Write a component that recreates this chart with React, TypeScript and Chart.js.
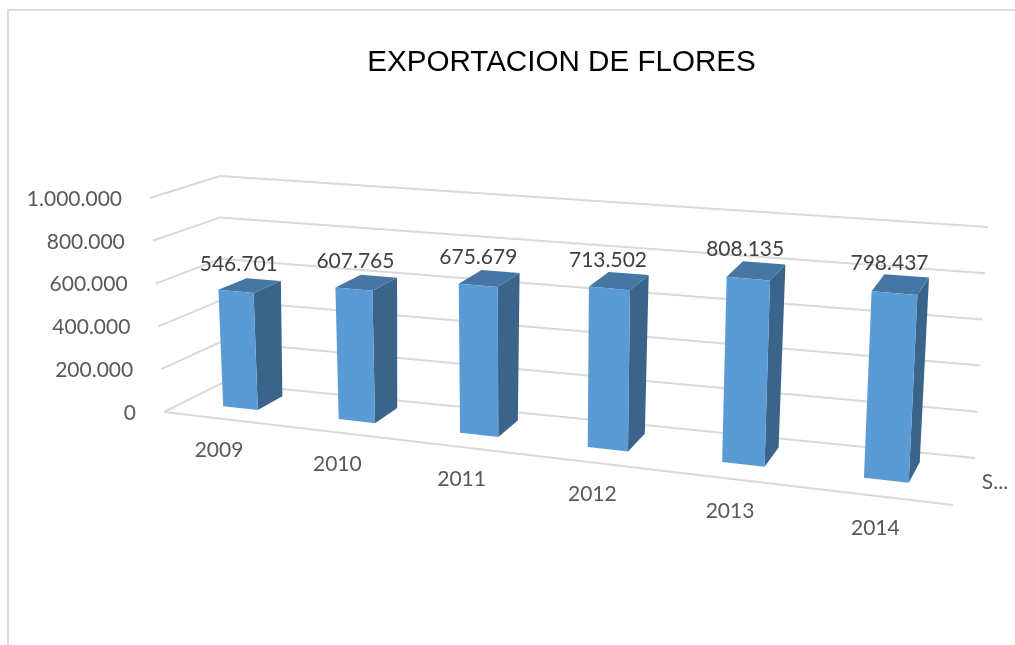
import React, { useEffect, useRef } from "react";
import { Chart, registerables } from "chart.js";

Chart.register(...registerables);

const categories = ["2009", "2010", "2011", "2012", "2013", "2014"];
const exportValues = [546701, 607765, 675679, 713502, 808135, 798437];
const axisTicks = [0, 200000, 400000, 600000, 800000, 1000000];
const seriesLabel = "S...";
const chartTitle = "EXPORTACION DE FLORES";

type Pt = { x: number; y: number };

// Perspective frame of the "3D" plot (corners of the floor, lift vectors for the walls)
const FLOOR = {
  frontLeft: { x: 164, y: 412 },
  frontRight: { x: 953, y: 505 },
  backLeft: { x: 222, y: 383 },
  backRight: { x: 975, y: 458 },
};
const LIFT = {
  frontLeft: { x: -14, y: -214 },
  frontRight: { x: 12, y: -240 },
  backLeft: { x: -2, y: -207 },
  backRight: { x: 13, y: -231 },
};
const PERSPECTIVE = -0.143;
const BAR_FRONT = 0.35;
const BAR_BACK = 0.8;

const bilerp = (c: typeof FLOOR, u: number, d: number): Pt => {
  const x0 = c.frontLeft.x + (c.frontRight.x - c.frontLeft.x) * u;
  const y0 = c.frontLeft.y + (c.frontRight.y - c.frontLeft.y) * u;
  const x1 = c.backLeft.x + (c.backRight.x - c.backLeft.x) * u;
  const y1 = c.backLeft.y + (c.backRight.y - c.backLeft.y) * u;
  return { x: x0 + (x1 - x0) * d, y: y0 + (y1 - y0) * d };
};

const project = (u: number, d: number, h: number): Pt => {
  const w = (u * (1 + PERSPECTIVE)) / (1 + PERSPECTIVE * u);
  const f = bilerp(FLOOR, w, d);
  const l = bilerp(LIFT, w, d);
  return { x: f.x + l.x * h, y: f.y + l.y * h };
};

const fmt = (v: number) => String(v).replace(/\B(?=(\d{3})+(?!\d))/g, ".");

const poly = (ctx: CanvasRenderingContext2D, pts: Pt[], fill: string) => {
  ctx.beginPath();
  pts.forEach((p, i) => (i ? ctx.lineTo(p.x, p.y) : ctx.moveTo(p.x, p.y)));
  ctx.closePath();
  ctx.fillStyle = fill;
  ctx.fill();
};

const line = (ctx: CanvasRenderingContext2D, pts: Pt[]) => {
  ctx.beginPath();
  pts.forEach((p, i) => (i ? ctx.lineTo(p.x, p.y) : ctx.moveTo(p.x, p.y)));
  ctx.stroke();
};

const frameAndPaper = {
  id: "frameAndPaper",
  beforeDraw(chart: any) {
    const { ctx, width, height } = chart;
    ctx.save();
    ctx.fillStyle = "#ffffff";
    ctx.fillRect(0, 0, width, height);
    ctx.strokeStyle = "#dcdcdc";
    ctx.lineWidth = 2;
    line(ctx, [
      { x: 8, y: height },
      { x: 8, y: 10 },
      { x: width, y: 10 },
    ]);
    ctx.restore();
  },
};

const perspectiveBars = {
  id: "perspectiveBars",
  beforeDatasetsDraw(chart: any) {
    const { ctx, chartArea: area, scales } = chart;
    const toU = (px: number) => (px - area.left) / area.width;
    const toH = (py: number) => (area.bottom - py) / area.height;

    ctx.save();
    // walls and floor
    ctx.strokeStyle = "#d9d9d9";
    ctx.lineWidth = 2;
    line(ctx, [project(0, 0, 0), project(1, 0, 0)]);
    axisTicks.forEach((t) => {
      const h = toH(scales.y.getPixelForValue(t));
      line(ctx, [project(0, 0, h), project(0, 1, h), project(1, 1, h)]);
    });

    // axis labels
    ctx.font = "21px Lato";
    ctx.fillStyle = "#595959";
    ctx.textBaseline = "middle";
    ctx.textAlign = "right";
    axisTicks.forEach((t) => {
      const h = toH(scales.y.getPixelForValue(t));
      const p = project(0, 0, h);
      ctx.fillText(fmt(t), p.x - 28, p.y + 1);
    });
    ctx.textAlign = "center";
    categories.forEach((c, i) => {
      const p = project(toU(scales.x.getPixelForValue(i)), 0, 0);
      ctx.fillText(c, p.x - 2, p.y + 32);
    });
    const s = project(1, 1, 0);
    ctx.fillText(seriesLabel, s.x + 20, s.y + 24);

    // bars
    const meta = chart.getDatasetMeta(0);
    meta.data.forEach((bar: any) => {
      const u0 = toU(bar.x - bar.width / 2);
      const u1 = toU(bar.x + bar.width / 2);
      const h = toH(bar.y);
      const a = project(u0, BAR_FRONT, 0);
      const b = project(u1, BAR_FRONT, 0);
      const c = project(u1, BAR_BACK, 0);
      const at = project(u0, BAR_FRONT, h);
      const bt = project(u1, BAR_FRONT, h);
      const ct = project(u1, BAR_BACK, h);
      const dt = project(u0, BAR_BACK, h);
      poly(ctx, [b, c, ct, bt], "#3a6489");
      poly(ctx, [at, bt, ct, dt], "#4676a4");
      poly(ctx, [a, b, bt, at], "#5b9bd5");
    });

    // value labels
    ctx.fillStyle = "#404040";
    meta.data.forEach((bar: any, i: number) => {
      const p = project(toU(bar.x), (BAR_FRONT + BAR_BACK) / 2, toH(bar.y));
      ctx.fillText(fmt(exportValues[i]), p.x - 11, p.y - 21);
    });
    ctx.restore();
    return false;
  },
};

export default function App() {
  const ref = useRef<HTMLCanvasElement>(null);
  useEffect(() => {
    if (!ref.current) return;
    const chart = new Chart(ref.current, {
      type: "bar",
      data: {
        labels: categories,
        datasets: [
          {
            label: "Series1",
            data: exportValues,
            backgroundColor: "#5b9bd5",
            barPercentage: 0.305,
            categoryPercentage: 1,
          },
        ],
      },
      options: {
        animation: false,
        responsive: false,
        devicePixelRatio: 1,
        layout: { padding: { left: 108, top: 28, right: 0, bottom: 0 } },
        plugins: {
          legend: { display: false },
          tooltip: { enabled: false },
          title: {
            display: true,
            text: chartTitle,
            color: "#000000",
            font: { family: "'Liberation Sans', Arial, sans-serif", size: 29.6, weight: "normal" },
            padding: { top: 17, bottom: 10 },
          },
        },
        scales: {
          x: { display: false },
          y: { display: false, min: 0, max: 1000000, ticks: { stepSize: 200000 } },
        },
      },
      plugins: [frameAndPaper, perspectiveBars],
    } as any);
    return () => chart.destroy();
  }, []);
  return (
    <canvas
      ref={ref}
      width={1015}
      height={645}
      style={{ position: "fixed", left: 0, top: 0, display: "block" }}
    />
  );
}
